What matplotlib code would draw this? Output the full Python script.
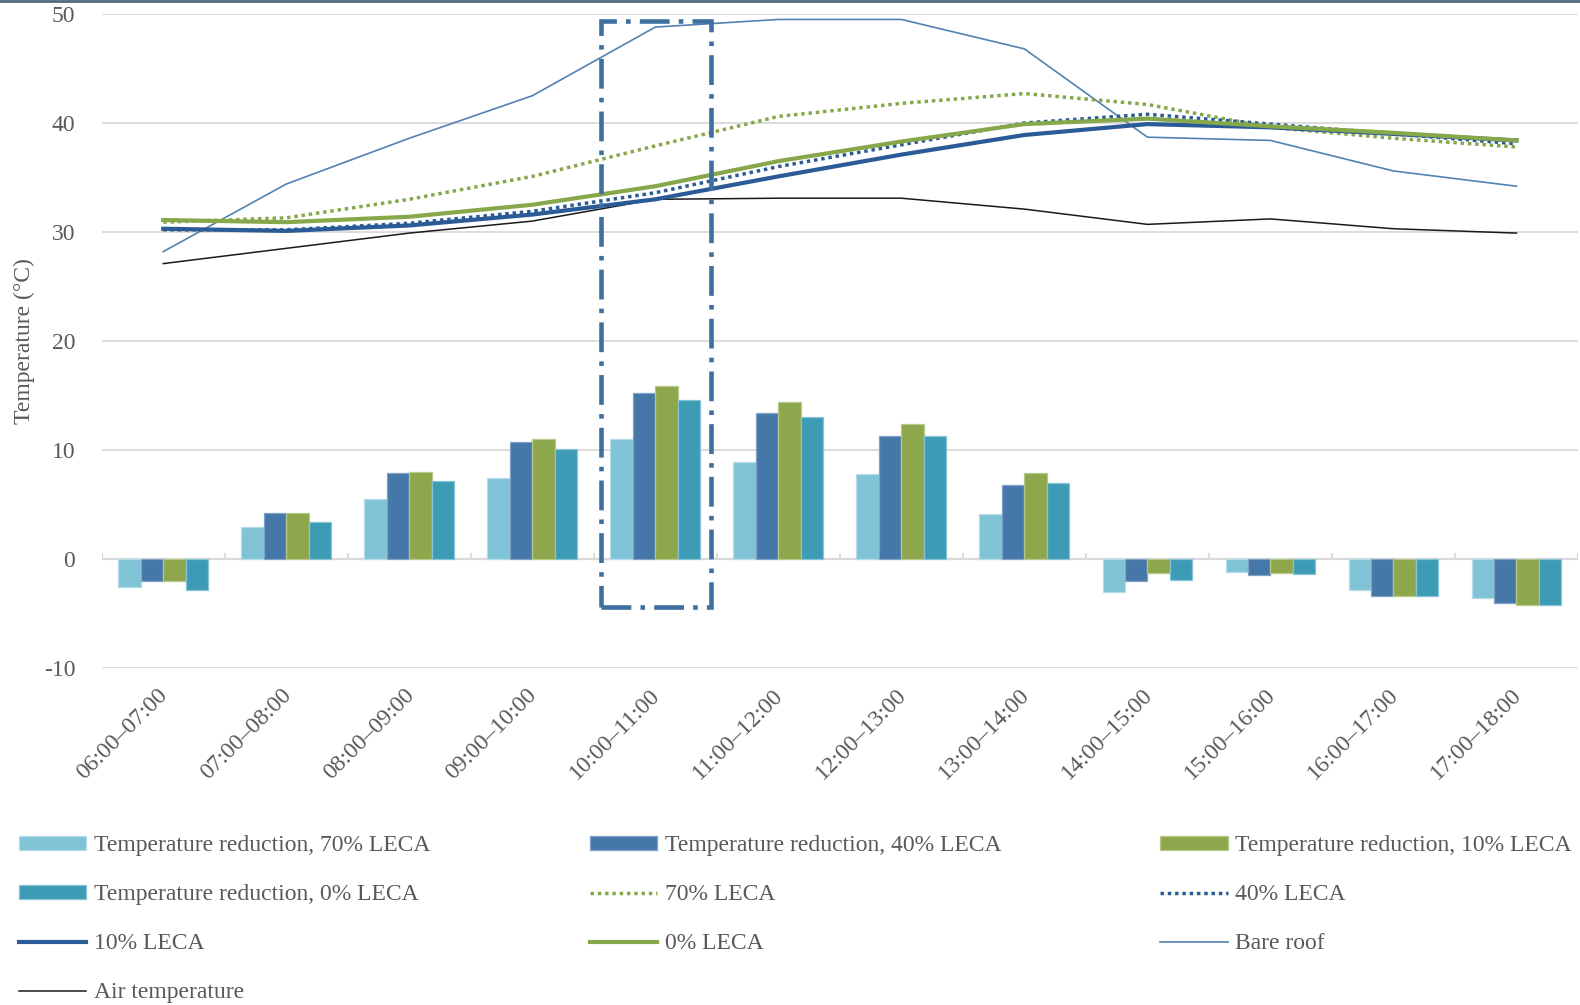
import numpy as np
import matplotlib
matplotlib.use("Agg")
import matplotlib.pyplot as plt
from matplotlib.patches import Rectangle
from matplotlib.lines import Line2D
from matplotlib.transforms import ScaledTranslation

categories = ['06:00–07:00', '07:00–08:00', '08:00–09:00', '09:00–10:00',
              '10:00–11:00', '11:00–12:00', '12:00–13:00', '13:00–14:00',
              '14:00–15:00', '15:00–16:00', '16:00–17:00', '17:00–18:00']

red70 = [-2.6, 2.9, 5.5, 7.4, 11.0, 8.9, 7.8, 4.1, -3.0, -1.2, -2.8, -3.6]
red40 = [-2.0, 4.2, 7.9, 10.7, 15.2, 13.4, 11.3, 6.8, -2.0, -1.5, -3.4, -4.0]
red10 = [-2.0, 4.2, 8.0, 11.0, 15.9, 14.4, 12.4, 7.9, -1.3, -1.3, -3.4, -4.2]
red0 = [-2.8, 3.4, 7.2, 10.1, 14.6, 13.0, 11.3, 7.0, -1.9, -1.4, -3.4, -4.2]

leca70 = [30.9, 31.3, 33.0, 35.1, 37.9, 40.6, 41.8, 42.7, 41.7, 39.6, 38.6, 37.8]
leca40 = [30.2, 30.2, 30.8, 31.9, 33.6, 36.0, 38.0, 40.0, 40.8, 39.9, 39.0, 38.1]
leca10 = [30.3, 30.1, 30.6, 31.6, 33.0, 35.1, 37.1, 38.9, 39.9, 39.6, 39.0, 38.4]
leca0 = [31.1, 30.9, 31.4, 32.5, 34.2, 36.5, 38.3, 39.9, 40.4, 39.7, 39.1, 38.4]
bare_roof = [28.2, 34.4, 38.6, 42.5, 48.8, 49.5, 49.5, 46.8, 38.7, 38.4, 35.6, 34.2]
air_temp = [27.1, 28.5, 29.9, 31.0, 33.0, 33.1, 33.1, 32.1, 30.7, 31.2, 30.3, 29.9]

bar_labels = ['Temperature reduction, 70% LECA', 'Temperature reduction, 40% LECA',
              'Temperature reduction, 10% LECA', 'Temperature reduction, 0% LECA']
yticks = [-10, 0, 10, 20, 30, 40, 50]

plt.rcParams['font.family'] = ['Liberation Serif', 'DejaVu Serif']
TXT = '#595959'
FS = 17

fig = plt.figure(figsize=(15.8, 10.05), dpi=100)
ax = fig.add_axes([101.7 / 1580, 1 - 668 / 1005, (1578 - 101.7) / 1580, (668 - 14) / 1005])

x = np.arange(len(categories))
w = 0.1825
bar_colors = ['#80C3D6', '#4577A9', '#8FA74C', '#3D9BB6']
bar_edges = ['#B5DDE8', '#7FA2C6', '#B6C88A', '#86C3D4']
bars = []
for i, (vals, c, ec) in enumerate(zip([red70, red40, red10, red0], bar_colors, bar_edges)):
    b = ax.bar(x + (i - 1.5) * w, vals, width=w, color=c, edgecolor=ec, linewidth=0.9, zorder=2)
    bars.append(b)

l70, = ax.plot(x, leca70, color='#86A84A', lw=2.5, linestyle=(0, (1, 1.1)),
               dash_capstyle='butt', zorder=4)
l40, = ax.plot(x, leca40, color='#2B5B97', lw=2.5, linestyle=(0, (1, 1.1)),
               dash_capstyle='butt', zorder=4)
l10, = ax.plot(x, leca10, color='#2B5B97', lw=3.0, zorder=4)
l0, = ax.plot(x, leca0, color='#86A84A', lw=3.0, zorder=4)
lbare, = ax.plot(x, bare_roof, color='#5282B2', lw=1.2, zorder=3)
lair, = ax.plot(x, air_temp, color='#1a1a1a', lw=1.1, zorder=3)

ax.set_xlim(-0.5, len(categories) - 0.5)
ax.set_ylim(-10, 50)
ax.set_yticks(yticks)
ax.set_yticklabels([str(v) for v in yticks], color=TXT, fontsize=FS)
ax.tick_params(axis='y', length=0, pad=19)
for v in yticks:
    if v != 0:
        ax.axhline(v, color='#D9D9D9', lw=1.3, zorder=0)
ax.axhline(0, color='#D9D9D9', lw=1.6, zorder=1)
bounds = np.arange(len(categories) + 1) - 0.5
ax.vlines(bounds, 0, 0.55, color='#D9D9D9', lw=1.3, zorder=1)

for s in ax.spines.values():
    s.set_visible(False)

ax.set_xticks(x)
ax.set_xticklabels(categories, rotation=45, ha='right', va='top', color=TXT, fontsize=FS)
ax.tick_params(axis='x', length=0, pad=12)
for lab in ax.get_xticklabels():
    lab.set_transform(lab.get_transform() + ScaledTranslation(9 / 100, 0, fig.dpi_scale_trans))

ax.set_ylabel('Temperature (°C)', color=TXT, fontsize=FS)
ax.yaxis.set_label_coords((35 - 101.7) / 1476, 0.5)

# highlight box
rect = Rectangle((3.56, -4.37), 4.454 - 3.56, 49.4 + 4.37, fill=False,
                 edgecolor='#3E6F9E', lw=3.3, linestyle=(0, (6.5, 2.0, 1.0, 2.0)), zorder=5)
ax.add_patch(rect)

# top border line
fig.add_artist(Line2D([0, 1], [0.999, 0.999], transform=fig.transFigure, color='#4D6A80', lw=2))

handles = [bars[0], bars[3], l10, lair, bars[1], l70, l0, bars[2], l40, lbare]
labels = [bar_labels[0], bar_labels[3], '10% LECA', 'Air temperature',
          bar_labels[1], '70% LECA', '0% LECA', bar_labels[2], '40% LECA', 'Bare roof']
leg = fig.legend(handles, labels, loc='upper left', bbox_to_anchor=(19 / 1580, 0.169, 1553 / 1580, 0),
                 mode='expand', ncol=3, frameon=False, fontsize=FS, handlelength=2.85,
                 handleheight=0.5, handletextpad=0.33, labelspacing=1.19, borderpad=0,
                 borderaxespad=0, columnspacing=1.0)
for t in leg.get_texts():
    t.set_color(TXT)

fig.savefig('out.png', dpi=100, facecolor='white')
